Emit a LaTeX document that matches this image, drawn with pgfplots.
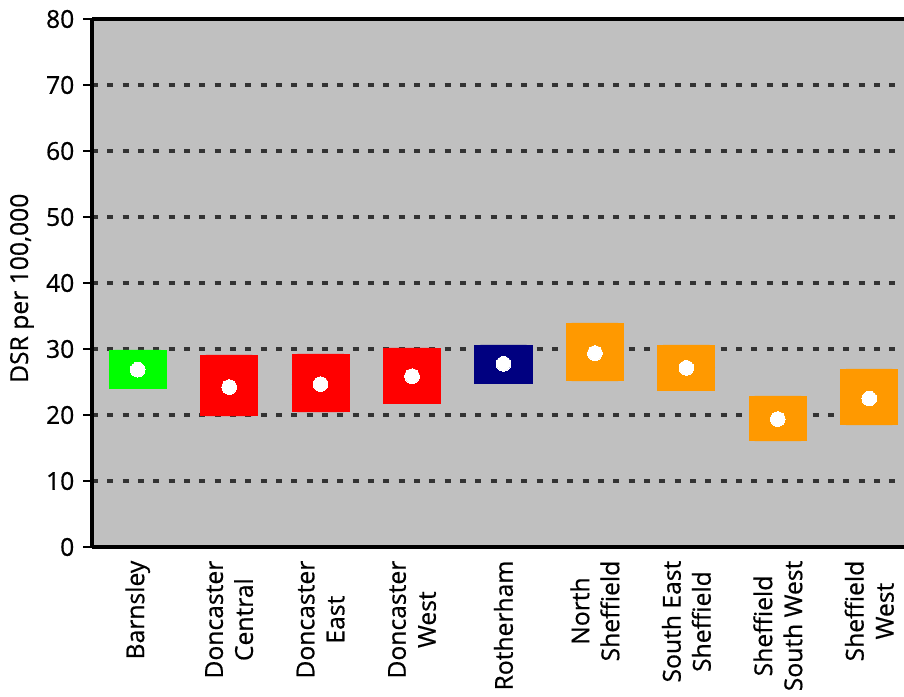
\documentclass[border=0pt]{standalone}
\usepackage{fontspec}
\setmainfont{Open Sans}[FakeBold=0.6]
\usepackage{pgfplots}
\pgfplotsset{compat=1.18}
\usepgfplotslibrary{statistics}
\definecolor{bgray}{HTML}{C0C0C0}
\definecolor{cgreen}{HTML}{00FF00}
\definecolor{cred}{HTML}{FF0000}
\definecolor{cnavy}{HTML}{000080}
\definecolor{corange}{HTML}{FF9900}
\definecolor{gridc}{HTML}{333333}
\begin{document}
\begin{tikzpicture}[font=\fontsize{18.5}{22.5}\selectfont]
\begin{axis}[
  name=ax,
  scale only axis,
  width=609pt, height=396pt,
  xmin=-0.5, xmax=8.38,
  ymin=0, ymax=80,
  ytick={0,10,...,80},
  xtick={0,...,8},
  xticklabels={Barnsley, Doncaster\\Central, Doncaster\\East, Doncaster\\West, Rotherham, North\\Sheffield, South East\\Sheffield, Sheffield\\South West, Sheffield\\West},
  x tick label style={rotate=90, anchor=east, align=center},
  y tick label style={xshift=-3pt},
  xtick style={draw=none},
  ytick style={black, line width=2pt},
  tick align=outside,
  major tick length=6.75pt,
  /pgf/number format/assume math mode=true,
  axis background/.style={fill=bgray},
  axis x line*=box, axis y line*=left,
  axis line style={black, line width=2.4pt},
  ymajorgrids,
  grid style={gridc, line width=2.3pt, dash pattern=on 4.5pt off 7pt},
  ylabel={DSR per 100,000},
  every axis y label/.style={at={(axis description cs:0,0.49)}, xshift=-52.5pt, rotate=90, anchor=center},
  boxplot/draw direction=y,
  boxplot/every box/.style={draw=none},
  boxplot/every median/.style={draw=none},
  boxplot/every whisker/.style={draw=none},
]
% Barnsley
\addplot[fill=cgreen, draw=none, boxplot prepared={draw position=0, lower whisker=23.96, lower quartile=23.96, median=26.86, upper quartile=29.88, upper whisker=29.88, box extend=0.635}] coordinates {};
% Doncaster Central
\addplot[fill=cred, draw=none, boxplot prepared={draw position=1, lower whisker=19.78, lower quartile=19.78, median=24.23, upper quartile=29.12, upper whisker=29.12, box extend=0.635}] coordinates {};
% Doncaster East
\addplot[fill=cred, draw=none, boxplot prepared={draw position=2, lower whisker=20.38, lower quartile=20.38, median=24.68, upper quartile=29.27, upper whisker=29.27, box extend=0.635}] coordinates {};
% Doncaster West
\addplot[fill=cred, draw=none, boxplot prepared={draw position=3, lower whisker=21.74, lower quartile=21.74, median=25.89, upper quartile=30.18, upper whisker=30.18, box extend=0.635}] coordinates {};
% Rotherham
\addplot[fill=cnavy, draw=none, boxplot prepared={draw position=4, lower whisker=24.77, lower quartile=24.77, median=27.76, upper quartile=30.63, upper whisker=30.63, box extend=0.635}] coordinates {};
% North Sheffield
\addplot[fill=corange, draw=none, boxplot prepared={draw position=5, lower whisker=25.08, lower quartile=25.08, median=29.38, upper quartile=33.96, upper whisker=33.96, box extend=0.635}] coordinates {};
% South East Sheffield
\addplot[fill=corange, draw=none, boxplot prepared={draw position=6, lower whisker=23.71, lower quartile=23.71, median=27.15, upper quartile=30.63, upper whisker=30.63, box extend=0.635}] coordinates {};
% Sheffield South West
\addplot[fill=corange, draw=none, boxplot prepared={draw position=7, lower whisker=15.99, lower quartile=15.99, median=19.38, upper quartile=22.91, upper whisker=22.91, box extend=0.635}] coordinates {};
% Sheffield West
\addplot[fill=corange, draw=none, boxplot prepared={draw position=8, lower whisker=18.41, lower quartile=18.41, median=22.50, upper quartile=26.99, upper whisker=26.99, box extend=0.635}] coordinates {};
% point estimates
\addplot[white, only marks, mark=*, mark size=5.5pt, mark options={fill=white, draw=white, line width=0pt}] coordinates {
(0,26.86) (1,24.23) (2,24.68) (3,25.89) (4,27.76) (5,29.38) (6,27.15) (7,19.38) (8,22.50)};
\end{axis}
\pgfresetboundingbox
\path ([xshift=-69pt,yshift=-112.5pt]ax.south west) rectangle ([yshift=14.25pt]ax.north east);
\end{tikzpicture}
\end{document}
